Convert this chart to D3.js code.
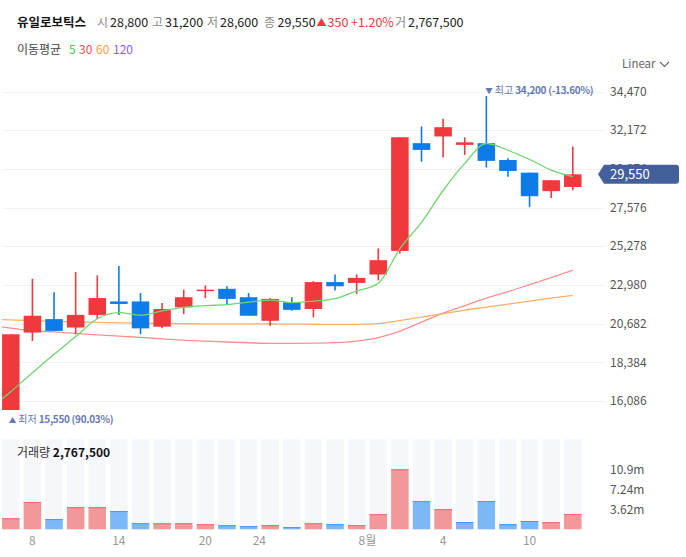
<!DOCTYPE html>
<html><head><meta charset="utf-8">
<script src="https://cdn.jsdelivr.net/npm/d3@7/dist/d3.min.js"></script>
<style>
html,body{margin:0;padding:0;background:#fff;}
svg{display:block;font-family:"Noto Sans CJK KR","Noto Sans",sans-serif;}
</style></head><body>
<svg id="c" width="686" height="557"></svg>
<script>
// ---- data ----
const days = ["7/7","7/8","7/9","7/10","7/11","7/14","7/15","7/16","7/17","7/18","7/21","7/22","7/23","7/24","7/25","7/28","7/29","7/30","7/31","8/1","8/4","8/5","8/6","8/7","8/8","8/11","8/12"];
const open  = [15550,20150,20950,20450,21200,22000,22000,20500,21650,22650,22750,22250,20850,21950,21550,23150,23100,23600,25000,31400,31800,31300,31400,30400,29650,28550,28800];
const high  = [20050,23350,22550,23750,23550,24100,22500,21900,22700,22950,22900,22500,22200,22250,23200,23600,23600,25150,31750,32400,32850,31750,34200,30500,29650,29200,31200];
const low   = [15550,19650,20250,20050,20950,21200,20050,20400,21250,22200,21800,21150,20550,21450,21050,22650,22450,23250,24850,30300,30550,30700,29950,29400,27600,28150,28600];
const close = [20050,21150,20250,21200,22200,21850,20400,21550,22250,22700,22150,21150,22150,21500,23150,22900,23400,24450,31750,31000,32350,31450,30350,29750,28250,29200,29550];
const volume = [2000000,4950000,1850000,4000000,4000000,3300000,1100000,1100000,1100000,920000,750000,580000,750000,400000,1100000,920000,750000,2750000,10860000,5100000,3650000,1300000,5100000,920000,1500000,1300000,2767500];
// moving averages, first value belongs to the day before the first candle
const ma5  = [15590,16640,17770,18860,19910,20970,21330,21180,21440,21650,21750,21810,21960,22080,21930,22020,22170,22620,23080,25130,26700,28590,30200,31380,30980,30430,29800,29420];
const ma30 = [20600,20420,20255,20190,20100,20010,19940,19860,19780,19700,19645,19590,19545,19510,19510,19525,19550,19645,19850,20240,20770,21305,21750,22195,22580,23000,23410,23855];
const ma60 = [20950,20900,20860,20820,20785,20755,20730,20705,20690,20675,20670,20670,20665,20660,20655,20645,20635,20640,20685,20860,21070,21275,21485,21660,21840,22015,22195,22355];
const priceTicks = [34470,32172,29874,27576,25278,22980,20682,18384,16086];
const volTicks = [3620000,7240000,10860000];
const volTickLabels = ["3.62m","7.24m","10.9m"];
const xTickPos = [1,5,9,11.5,16.5,20,24];
const xTickLabels = ["8","14","20","24","8월","4","10"];
const maPeriods = ["5","30","60","120"];
const maColors = ["#3cc43c","#ff4b4b","#ff9d45","#8c5cf2"];
const lineColors = {ma5:"#6fd56f", ma30:"#ff8f8f", ma60:"#ffae66"};

const UP="#ef393c", DOWN="#0e7ce8";
const svg = d3.select("#c");
const n = close.length;
const fmt = v => d3.format(",")(v);
const pct = v => d3.format(".2f")(v).replace("−","-");

// ---- scales ----
const x = d3.scaleLinear().domain([-0.5, n-0.5]).range([0, 583.6]);
const step = x(1)-x(0);
const bw = step*0.81;
const y = d3.scaleLinear().domain([16086, 34470]).range([401, 91.5]);
const yv = d3.scaleLinear().domain([0, 10860000]).range([529.3, 469.3]);

// ---- header ----
const hdr = svg.append("g").attr("font-size",12.5);
const H = [
  {t:"유일로보틱스",x:17,c:"#111",w:"bold"},
  {t:"시",x:97,c:"#8a8a8a",s:12},{t:"28,800",x:110,c:"#222"},
  {t:"고",x:152,c:"#8a8a8a",s:12},{t:"31,200",x:165,c:"#222"},
  {t:"저",x:207,c:"#8a8a8a",s:12},{t:"28,600",x:220,c:"#222"},
  {t:"종",x:264,c:"#8a8a8a",s:12},{t:"29,550",x:277.5,c:"#222"},
  {t:"▲",x:316.5,c:UP,s:10},{t:"350 +1.20%",x:327.5,c:UP},
  {t:"거",x:395,c:"#8a8a8a",s:12},{t:"2,767,500",x:408,c:"#222"}
];
H.forEach(h=>hdr.append("text").attr("x",h.x).attr("y",22.5).attr("dy","0.35em")
  .attr("fill",h.c).attr("font-weight",h.w||"normal").attr("font-size",h.s||null).text(h.t));

const leg = svg.append("g").attr("font-size",12);
leg.append("text").attr("x",17).attr("y",49.5).attr("dy","0.35em").attr("fill","#444").text("이동평균");
const legX=[69,79,96,113];
maPeriods.forEach((p,i)=>leg.append("text").attr("x",legX[i]).attr("y",49.5).attr("dy","0.35em").attr("fill",maColors[i]).text(p));

// Linear selector
svg.append("text").attr("x",622).attr("y",64).attr("dy","0.35em").attr("font-size",11.5).attr("fill","#666").text("Linear");
svg.append("path").attr("d","M660,62 L664.5,66.5 L669,62").attr("fill","none").attr("stroke","#666").attr("stroke-width",1.1);

// ---- price grid + ticks ----
const grid = svg.append("g");
priceTicks.forEach(v=>{
  grid.append("line").attr("x1",3).attr("x2",605).attr("y1",Math.round(y(v))+0.5).attr("y2",Math.round(y(v))+0.5)
    .attr("stroke","#f0f0f2").attr("stroke-width",1);
  grid.append("text").attr("x",610).attr("y",y(v)).attr("dy","0.35em").attr("font-size",12).attr("fill","#555")
    .text(fmt(v));
});

// ---- price plot ----
svg.append("clipPath").attr("id","pc").append("rect").attr("x",2).attr("y",80).attr("width",590).attr("height",345);
const pg = svg.append("g").attr("clip-path","url(#pc)");

const maLine = arr => d3.line().x((d,i)=>x(i-1)).y(d=>y(d)).curve(d3.curveMonotoneX)(arr);
pg.append("path").attr("d",maLine(ma30)).attr("fill","none").attr("stroke",lineColors.ma30).attr("stroke-width",1.3);
pg.append("path").attr("d",maLine(ma60)).attr("fill","none").attr("stroke",lineColors.ma60).attr("stroke-width",1.3);

const idx = d3.range(n);
const cg = pg.append("g");
cg.selectAll("line.w").data(idx).join("line")
  .attr("x1",i=>x(i)).attr("x2",i=>x(i)).attr("y1",i=>y(high[i])).attr("y2",i=>y(low[i]))
  .attr("stroke",i=>close[i]>=open[i]?UP:DOWN).attr("stroke-width",1.6);
cg.selectAll("rect.b").data(idx).join("rect")
  .attr("x",i=>x(i)-bw/2).attr("width",bw)
  .attr("y",i=>y(Math.max(open[i],close[i])))
  .attr("height",i=>Math.max(1.5, Math.abs(y(open[i])-y(close[i]))))
  .attr("fill",i=>close[i]>=open[i]?UP:DOWN);

pg.append("path").attr("d",maLine(ma5)).attr("fill","none").attr("stroke",lineColors.ma5).attr("stroke-width",1.3);

// high / low annotations
const hiI = d3.maxIndex(high), loI = d3.minIndex(low);
const last = close[n-1];
const annC = "#6479b4";
function annot(xp, yp, arrow, label, val, p){
  const t = svg.append("text").attr("x",xp).attr("y",yp).attr("dy","0.35em").attr("font-size",10).attr("fill",annC);
  t.append("tspan").attr("font-size",7.5).text(arrow);
  t.append("tspan").attr("dx",2).text(label);
  t.append("tspan").attr("dx",2).attr("font-weight","bold").attr("letter-spacing",-0.3).text(fmt(val)+" ("+pct(p)+"%)");
}
annot(x(hiI)-1, 90, "▼", "최고", high[hiI], (last-high[hiI])/high[hiI]*100);
annot(x(loI)-2, 419.5, "▲", "최저", low[loI], (last-low[loI])/low[loI]*100);

// current price tag
const ty = y(last);
svg.append("path").attr("d",`M598,${ty} L604,${ty-9.5} L676,${ty-9.5} Q679,${ty-9.5} 679,${ty-6.5} L679,${ty+6.5} Q679,${ty+9.5} 676,${ty+9.5} L604,${ty+9.5} Z`)
  .attr("fill","#44609c");
svg.append("text").attr("x",610).attr("y",ty).attr("dy","0.36em").attr("font-size",13).attr("fill","#fff").text(fmt(last));

// ---- volume ----
const vg = svg.append("g");
vg.selectAll("rect.bg").data(idx).join("rect")
  .attr("x",i=>x(i)-bw/2).attr("width",bw).attr("y",439.3).attr("height",529.3-439.3).attr("fill","#f6f7fb");
const vUp = i => i===0 || close[i]>=close[i-1];
vg.selectAll("rect.v").data(idx).join("rect")
  .attr("x",i=>x(i)-bw/2).attr("width",bw).attr("y",i=>yv(volume[i])).attr("height",i=>yv(0)-yv(volume[i]))
  .attr("fill",i=>vUp(i)?"#f2979a":"#7db8f6");
vg.selectAll("rect.vt").data(idx).join("rect")
  .attr("x",i=>x(i)-bw/2).attr("width",bw).attr("y",i=>yv(volume[i])).attr("height",1)
  .attr("fill",i=>vUp(i)?"#ec6b70":"#4a97ef");
volTicks.forEach((v,k)=>svg.append("text").attr("x",610).attr("y",yv(v)).attr("dy","0.35em").attr("font-size",12).attr("fill","#555").text(volTickLabels[k]));

const vt = svg.append("text").attr("x",17).attr("y",452.5).attr("dy","0.35em").attr("font-size",12);
vt.append("tspan").attr("fill","#333").text("거래량 ");
vt.append("tspan").attr("fill","#111").attr("font-weight","bold").text(fmt(volume[n-1]));

// x axis labels
xTickPos.forEach((p,k)=>svg.append("text").attr("x",x(p)).attr("y",541).attr("dy","0.35em").attr("text-anchor","middle")
  .attr("font-size",12).attr("fill","#999").text(xTickLabels[k]));
</script>
</body></html>
